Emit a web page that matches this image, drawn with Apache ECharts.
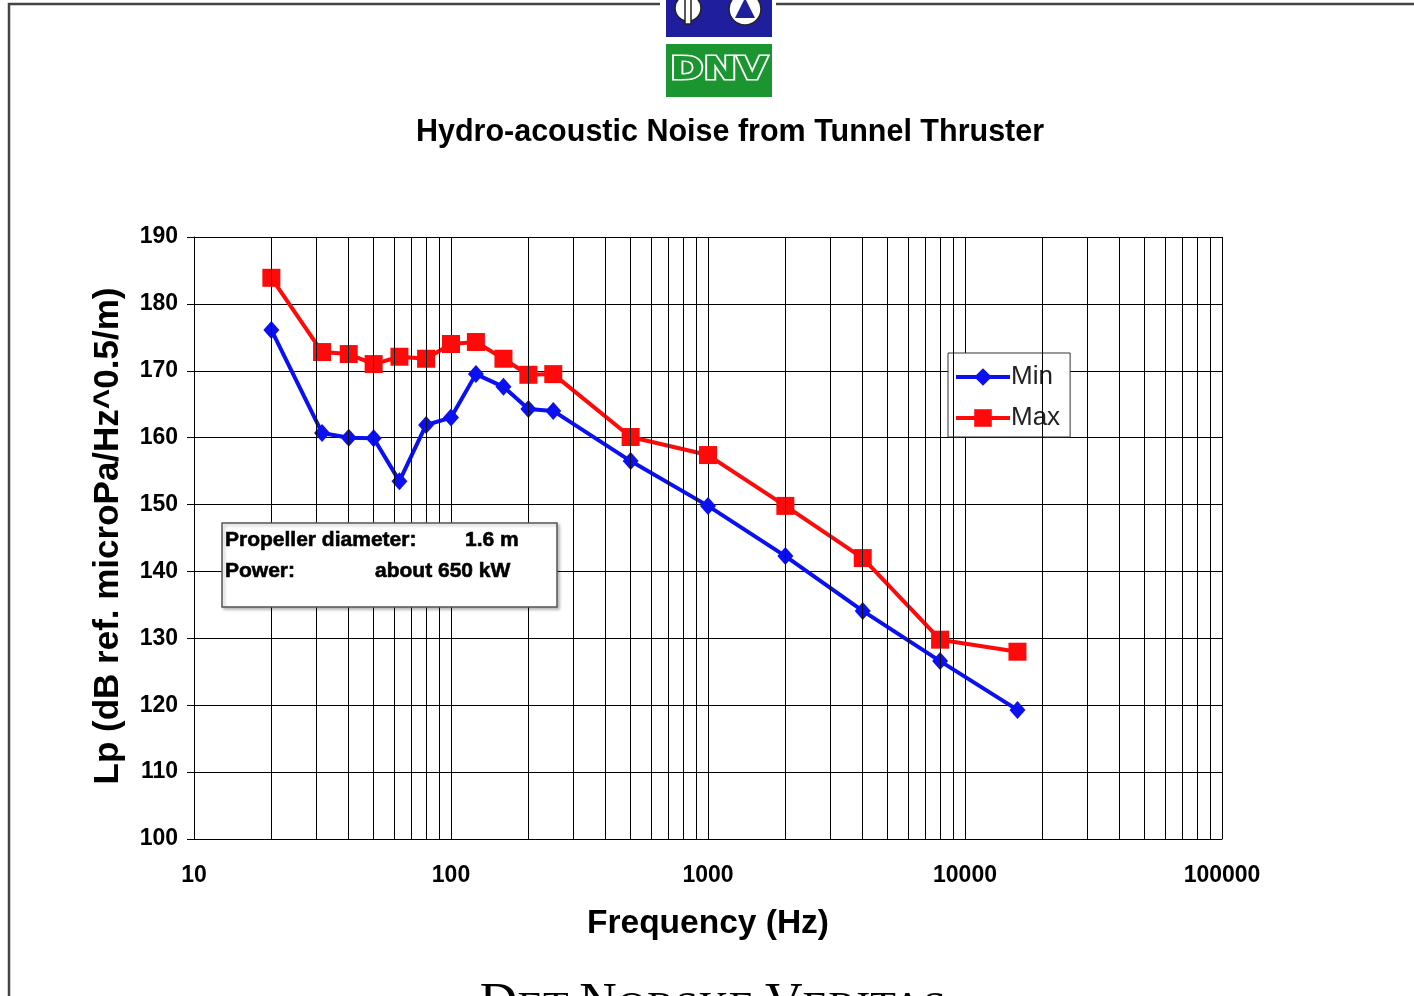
<!DOCTYPE html>
<html><head><meta charset="utf-8">
<script src="https://cdn.jsdelivr.net/npm/echarts@6/dist/echarts.min.js"></script>
<style>html,body{margin:0;padding:0;background:#fff}#c{width:1414px;height:996px}</style>
</head><body><div id="c"></div>
<script>
const freqs = [20, 31.5, 40, 50, 63, 80, 100, 125, 160, 200, 250, 500, 1000, 2000, 4000, 8000, 16000];
const minVals = [176.1, 160.7, 160.0, 159.9, 153.5, 161.9, 163.0, 169.5, 167.6, 164.3, 164.0, 156.5, 149.8, 142.3, 134.1, 126.6, 119.3];
const maxVals = [183.9, 172.8, 172.5, 171.0, 172.1, 171.8, 174.0, 174.3, 171.8, 169.4, 169.5, 160.1, 157.4, 149.8, 142.0, 129.8, 128.0];
const xGridLines = [20, 30, 40, 50, 60, 70, 80, 90,
  200, 300, 400, 500, 600, 700, 800, 900,
  2000, 3000, 4000, 5000, 6000, 7000, 8000, 9000,
  20000, 30000, 40000, 50000, 60000, 70000, 80000, 90000];
const titleText = 'Hydro-acoustic Noise from Tunnel Thruster';
const yName = 'Lp (dB ref. microPa/Hz^0.5/m)';
const xName = 'Frequency (Hz)';
const noteLines = [['Propeller diameter:', '1.6 m'], ['Power:', 'about 650 kW']];

const chart = echarts.init(document.getElementById('c'));
const F = 'Liberation Sans, Arial, sans-serif';
const BLUE = '#0a10f0', RED = '#ff0a0a';

chart.setOption({
  animation: false,
  backgroundColor: '#fff',
  grid: { left: 194, right: 192, top: 237, bottom: 157 },
  legend: {
    data: ['Min', 'Max'], orient: 'vertical', left: 948, top: 353,
    padding: [11, 10, 6, 6], itemGap: 15,
    itemWidth: 54, itemHeight: 22,
    lineStyle: { width: 4 },
    borderColor: '#333', borderWidth: 1, backgroundColor: '#fff',
    textStyle: { fontFamily: F, fontSize: 26, color: '#222', padding: [0, 0, 0, -4] }
  },
  xAxis: {
    type: 'log', logBase: 10, min: 10, max: 100000, splitNumber: 4,
    axisLine: { show: true, lineStyle: { color: '#000', width: 1 } },
    axisTick: { show: false },
    splitLine: { show: true, lineStyle: { color: '#000', width: 1 } },
    axisLabel: { formatter: v => String(Math.round(v)), fontFamily: F, fontWeight: 'bold', fontSize: 23, color: '#000', margin: 25 }
  },
  yAxis: {
    type: 'value', min: 100, max: 190, interval: 10,
    axisLine: { show: true, lineStyle: { color: '#000', width: 1 } },
    axisTick: { show: true, inside: false, length: 7, lineStyle: { color: '#000' } },
    splitLine: { show: true, lineStyle: { color: '#000', width: 1 } },
    axisLabel: { fontFamily: F, fontWeight: 'bold', fontSize: 23, color: '#000', margin: 16 }
  },
  series: [
    {
      name: 'grid', type: 'line', data: [], z: 1, silent: true,
      markLine: {
        silent: true, symbol: 'none', animation: false,
        label: { show: false },
        lineStyle: { color: '#000', width: 1, type: 'solid' },
        emphasis: { disabled: true },
        data: xGridLines.map(v => ({ xAxis: v }))
      }
    },
    {
      name: 'Min', type: 'line', z: 3,
      data: freqs.map((f, i) => [f, minVals[i]]),
      symbol: 'diamond', symbolSize: [16, 18],
      lineStyle: { color: BLUE, width: 4 },
      itemStyle: { color: BLUE }
    },
    {
      name: 'Max', type: 'line', z: 4,
      data: freqs.map((f, i) => [f, maxVals[i]]),
      symbol: 'rect', symbolSize: 18,
      lineStyle: { color: RED, width: 4 },
      itemStyle: { color: RED }
    }
  ],
  graphic: [
    // frame
    { type: 'polyline', z: 50, shape: { points: [[9, 996], [9, 4], [660, 4]] }, style: { stroke: '#444', lineWidth: 2.5, fill: null } },
    { type: 'line', z: 50, shape: { x1: 776, y1: 4, x2: 1414, y2: 4 }, style: { stroke: '#444', lineWidth: 2.5 } },
    // logo
    { type: 'rect', z: 50, shape: { x: 666, y: -2, width: 106, height: 39 }, style: { fill: '#1f1f9e' } },
    { type: 'circle', z: 51, shape: { cx: 688, cy: 8, r: 13 }, style: { fill: '#fff', stroke: '#222', lineWidth: 1.5 } },
    { type: 'rect', z: 52, shape: { x: 685, y: -2, width: 6, height: 26 }, style: { fill: '#fff', stroke: '#222', lineWidth: 1.5 } },
    { type: 'circle', z: 51, shape: { cx: 745, cy: 9, r: 16 }, style: { fill: '#fff', stroke: '#222', lineWidth: 1.5 } },
    { type: 'polygon', z: 52, shape: { points: [[735, 18], [745, -2], [755, 18]] }, style: { fill: '#1f1f9e' } },
    { type: 'rect', z: 50, shape: { x: 666, y: 44, width: 106, height: 53 }, style: { fill: '#1b9530' } },
    { type: 'text', z: 53, x: 719, y: 71, scaleX: 1.25, style: { text: 'DNV', font: 'bold 32px "DejaVu Sans", sans-serif', fill: '#1b9530', stroke: '#fff', lineWidth: 3, align: 'center', verticalAlign: 'middle' } },
    // title
    { type: 'text', z: 50, x: 730, y: 133, style: { text: titleText, font: 'bold 30.5px ' + F, fill: '#000', align: 'center', verticalAlign: 'middle' } },
    // axis names
    { type: 'text', z: 50, x: 108, y: 536, rotation: Math.PI / 2, style: { text: yName, font: 'bold 35px ' + F, fill: '#000', align: 'center', verticalAlign: 'middle' } },
    { type: 'text', z: 50, x: 708, y: 924, style: { text: xName, font: 'bold 33.5px ' + F, fill: '#000', align: 'center', verticalAlign: 'middle' } },
    // note box
    { type: 'rect', z: 60, shape: { x: 222, y: 523, width: 335, height: 84 }, style: { fill: '#fff', stroke: '#555', lineWidth: 1.5, shadowColor: 'rgba(0,0,0,0.25)', shadowBlur: 3, shadowOffsetX: 2, shadowOffsetY: 2 } },
    { type: 'text', z: 61, x: 225, y: 540, style: { text: noteLines[0][0], font: 'bold 21px ' + F, fill: '#000', stroke: '#000', lineWidth: 0.6, verticalAlign: 'middle' } },
    { type: 'text', z: 61, x: 465, y: 540, style: { text: noteLines[0][1], font: 'bold 21px ' + F, fill: '#000', stroke: '#000', lineWidth: 0.6, verticalAlign: 'middle' } },
    { type: 'text', z: 61, x: 225, y: 571, style: { text: noteLines[1][0], font: 'bold 21px ' + F, fill: '#000', stroke: '#000', lineWidth: 0.6, verticalAlign: 'middle' } },
    { type: 'text', z: 61, x: 375, y: 571, style: { text: noteLines[1][1], font: 'bold 21px ' + F, fill: '#000', stroke: '#000', lineWidth: 0.6, verticalAlign: 'middle' } },
    // footer
    { type: 'text', z: 50, x: 713, y: 1031, style: {
        text: '{a|D}{b|ET }{a|N}{b|ORSKE }{a|V}{b|ERITAS}',
        align: 'center', verticalAlign: 'bottom',
        rich: {
          a: { font: '52px "Liberation Serif", serif', fill: '#000', verticalAlign: 'bottom', lineHeight: 54 },
          b: { font: '42px "Liberation Serif", serif', fill: '#000', verticalAlign: 'bottom', lineHeight: 44 }
        }
    } }
  ]
});
</script></body></html>
